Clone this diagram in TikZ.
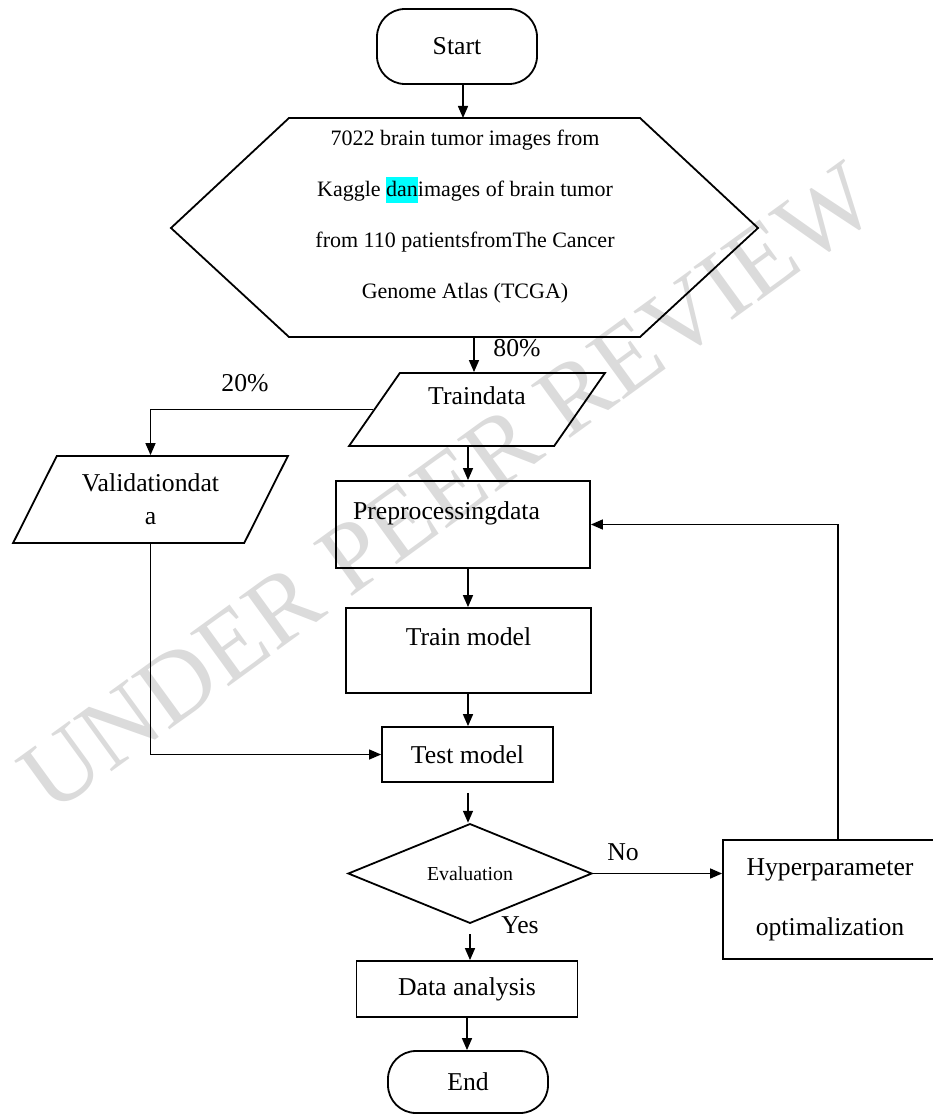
\documentclass[tikz,border=0pt]{standalone}
\usepackage{fontspec}
\setmainfont{Liberation Serif}
\usetikzlibrary{shapes.geometric,arrows.meta}

\definecolor{markcyan}{RGB}{0,255,255}
\newcommand{\hlcyan}[1]{{\setlength{\fboxsep}{0pt}\colorbox{markcyan}{\rule[-7pt]{0pt}{26pt}#1}}}

\begin{document}
\begin{tikzpicture}[x=1pt, y=-1pt, >={Triangle[length=12pt, width=10pt]},
    every node/.style={font=\fontsize{25.7}{30}\selectfont},
    terminal/.style={draw, line width=1.8pt, rounded corners=28pt, minimum width=160pt},
    process/.style={draw, line width=1.8pt, inner sep=0pt},
    iobox/.style={draw, line width=1.8pt, trapezium, trapezium stretches=true, inner sep=0pt},
    decision/.style={draw, line width=1.8pt, diamond, inner sep=0pt},
    flow/.style={->, line width=1.5pt}]
    \useasboundingbox (0,0) rectangle (932,1115);

    % Watermark
    \node [rotate=36, text=black!14, font=\fontsize{100}{100}\selectfont] (stamp) at (448,488) {UNDER PEER REVIEW};

    % Flow chart boxes
    \node [terminal, minimum height=75pt] (start) at (457,46.5) {Start};
    \draw [line width=1.8pt] (171,228) -- (289,118) -- (640,118) -- (758,228) -- (640,337) -- (289,337) -- cycle;
    \node [align=center, font=\fontsize{22}{51}\selectfont] (source) at (465,216.5) {7022 brain tumor images from\\ Kaggle \hlcyan{dan}images of brain tumor\\ from 110 patientsfromThe Cancer\\ Genome Atlas (TCGA)};
    \coordinate (sourcetop) at (463,118);
    \coordinate (sourcebot) at (474,337);
    \coordinate (spine) at (468,0);

    \node [iobox, trapezium left angle=55, trapezium right angle=125, minimum width=256pt, minimum height=73pt, align=center, font=\fontsize{25.7}{28}\selectfont] (traindata) at (477,409.5) {Traindata\\ \mbox{}};
    \node [iobox, trapezium left angle=58, trapezium right angle=122, minimum width=275pt, minimum height=87pt, align=center, font=\fontsize{25.7}{33}\selectfont] (validation) at (150.5,499.5) {Validationdat\\ a};
    \node [process, minimum width=254pt, minimum height=87pt, text width=220pt, inner xsep=17pt, align=left, font=\fontsize{25.7}{28}\selectfont] (preproc) at (463,524.5) {Preprocessingdata\\ \mbox{}};
    \node [process, minimum width=245pt, minimum height=85pt, align=center, font=\fontsize{25.7}{28}\selectfont] (trainmodel) at (468.5,650.5) {Train model\\ \mbox{}};
    \node [process, minimum width=171pt, minimum height=55pt] (testmodel) at (467.5,754.5) {Test model};
    \node [decision, minimum width=244pt, minimum height=87pt, font=\fontsize{19.8}{24}\selectfont] (evaluation) at (470,873.5) {Evaluation};
    \node [process, minimum width=221pt, minimum height=56pt] (analysis) at (467,989) {Data analysis};
    \node [terminal, minimum height=62pt] (finish) at (468,1082) {End};
    \node [process, minimum width=214pt, minimum height=119pt, align=center, font=\fontsize{25.7}{60}\selectfont] (hyper) at (830,899.5) {Hyperparameter\\ optimalization};

    % Arrows
    \draw [flow] (sourcetop |- start.south) -- (sourcetop);
    \draw [flow] (sourcebot) -- (sourcebot |- traindata.north);
    \node (pct80) at (517,348) {80\%};
    \draw [flow] (traindata.west) -| (validation.north);
    \node (pct20) at (245,383) {20\%};
    \draw [flow] (spine |- traindata.south) -- (spine |- preproc.north);
    \draw [flow] (spine |- preproc.south) -- (spine |- trainmodel.north);
    \draw [flow] (spine |- trainmodel.south) -- (spine |- testmodel.north);
    \draw [flow, line width=1.2pt] (validation.south) |- (testmodel.west);
    \draw [flow, shorten <=10pt] (spine |- testmodel.south) -- (spine |- evaluation.north);
    \draw [flow] (evaluation.east) -- (evaluation.east -| hyper.west);
    \node (no) at (623,852) {No};
    \draw [flow] ([xshift=8pt]hyper.north) |- (preproc.east);
    \draw [flow, shorten <=10pt] (evaluation.south) -- (evaluation.south |- analysis.north);
    \node (yes) at (520,925) {Yes};
    \draw [flow] (analysis.south) -- (analysis.south |- finish.north);
\end{tikzpicture}
\end{document}
